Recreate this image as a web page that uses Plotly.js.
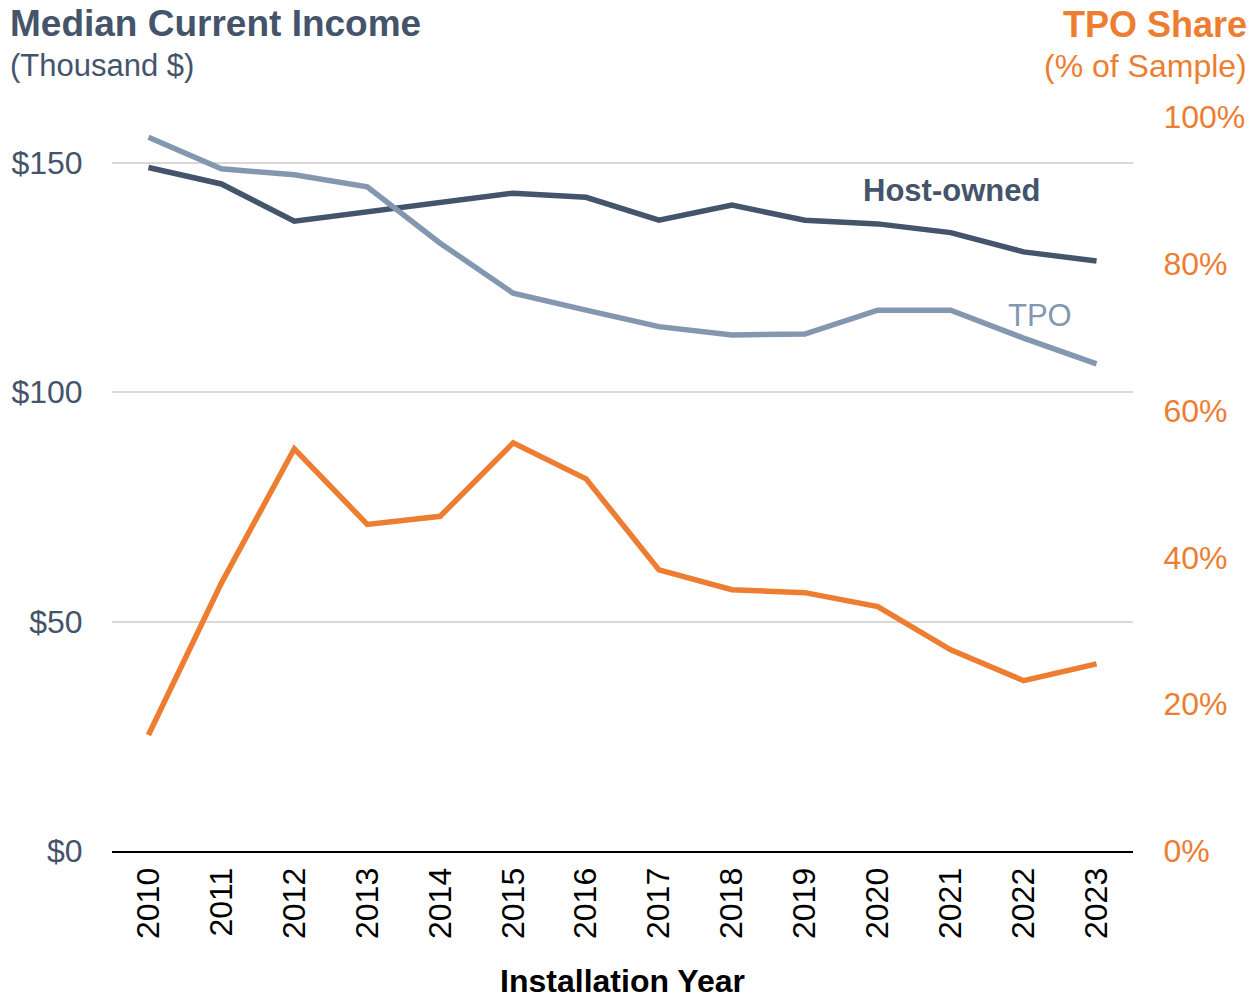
<!DOCTYPE html>
<html>
<head>
<meta charset="utf-8">
<script src="https://cdn.plot.ly/plotly-3.0.1.min.js"></script>
<style>html,body{margin:0;padding:0;background:#fff;}#chart{width:1253px;height:999px;}</style>
</head>
<body>
<div id="chart"></div>
<script>
const years = ["2010","2011","2012","2013","2014","2015","2016","2017","2018","2019","2020","2021","2022","2023"];
const hostOwnedIncome = [149.0, 145.4, 137.3, 139.4, 141.3, 143.4, 142.5, 137.5, 140.8, 137.5, 136.7, 134.8, 130.6, 128.6];
const tpoIncome = [155.6, 148.7, 147.4, 144.8, 132.5, 121.6, 117.9, 114.3, 112.5, 112.7, 117.9, 117.9, 111.8, 106.2];
const tpoShare = [15.8, 36.5, 54.8, 44.5, 45.6, 55.6, 50.7, 38.3, 35.6, 35.2, 33.3, 27.4, 23.2, 25.5];
const leftTicks = [0, 50, 100, 150];
const leftTickText = ["$0", "$50", "$100", "$150"];
const rightTicks = [0, 20, 40, 60, 80, 100];
const rightTickText = ["0%", "20%", "40%", "60%", "80%", "100%"];

const DARK = "#44546A", LIGHT = "#8497B0", ORANGE = "#ED7D31";
const FONT = "Liberation Sans, Arial, sans-serif";

const traces = [
  {x: years, y: hostOwnedIncome, type: "scatter", mode: "lines", name: "Host-owned",
   line: {color: DARK, width: 5.5}, yaxis: "y"},
  {x: years, y: tpoIncome, type: "scatter", mode: "lines", name: "TPO",
   line: {color: LIGHT, width: 5.5}, yaxis: "y"},
  {x: years, y: tpoShare, type: "scatter", mode: "lines", name: "TPO Share",
   line: {color: ORANGE, width: 5.5}, yaxis: "y2"}
];

const layout = {
  width: 1253, height: 999,
  margin: {l: 112, r: 120, t: 117, b: 148},
  paper_bgcolor: "#fff", plot_bgcolor: "#fff",
  showlegend: false,
  font: {family: FONT},
  xaxis: {
    type: "category",
    range: [-0.5, years.length - 0.5],
    tickangle: -90,
    tickfont: {size: 32, color: "#000", family: FONT},
    showgrid: false,
    showline: true, linecolor: "#000", linewidth: 2,
    ticks: "outside", ticklen: 2, tickcolor: "rgba(0,0,0,0)",
    zeroline: false,
    title: {text: "<b>Installation Year</b>", font: {size: 32, color: "#000", family: FONT}, standoff: 34},
    fixedrange: true
  },
  yaxis: {
    range: [0, 160],
    tickvals: leftTicks, ticktext: leftTickText,
    tickfont: {size: 32, color: DARK, family: FONT},
    showgrid: true, gridcolor: "#D9D9D9", gridwidth: 2,
    zeroline: false, showline: false,
    ticks: "outside", ticklen: 22, tickcolor: "rgba(0,0,0,0)"
  },
  yaxis2: {
    range: [0, 100],
    overlaying: "y", side: "right",
    tickvals: rightTicks, ticktext: rightTickText,
    tickfont: {size: 32, color: ORANGE, family: FONT},
    showgrid: false, zeroline: false, showline: false,
    ticks: "outside", ticklen: 23, tickcolor: "rgba(0,0,0,0)"
  },
  annotations: [
    {xref: "paper", yref: "paper", x: -0.102, y: 1.127, xanchor: "left", yanchor: "middle",
     text: "<b>Median Current Income</b>", showarrow: false, font: {size: 37, color: DARK, family: FONT}},
    {xref: "paper", yref: "paper", x: -0.102, y: 1.0695, xanchor: "left", yanchor: "middle",
     text: "(Thousand $)", showarrow: false, font: {size: 31, color: DARK, family: FONT}},
    {xref: "paper", yref: "paper", x: 1.1137, y: 1.126, xanchor: "right", yanchor: "middle",
     text: "<b>TPO Share</b>", showarrow: false, font: {size: 36, color: ORANGE, family: FONT}},
    {xref: "paper", yref: "paper", x: 1.1137, y: 1.0695, xanchor: "right", yanchor: "middle",
     text: "(% of Sample)", showarrow: false, font: {size: 32, color: ORANGE, family: FONT}},
    {xref: "paper", yref: "paper", x: 0.8227, y: 0.9005, xanchor: "center", yanchor: "middle",
     text: "<b>Host-owned</b>", showarrow: false, font: {size: 31, color: DARK, family: FONT}},
    {xref: "paper", yref: "paper", x: 0.9089, y: 0.7302, xanchor: "center", yanchor: "middle",
     text: "TPO", showarrow: false, font: {size: 31, color: LIGHT, family: FONT}}
  ]
};

Plotly.newPlot("chart", traces, layout, {displayModeBar: false, staticPlot: true});
</script>
</body>
</html>
